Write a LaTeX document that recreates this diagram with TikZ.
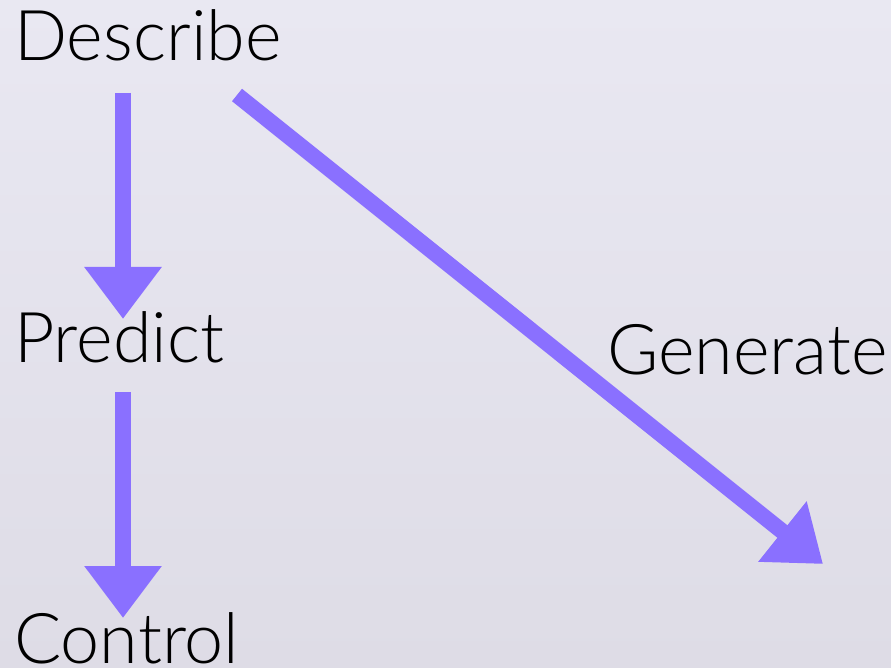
\documentclass[tikz,border=0pt]{standalone}
\usepackage{fontspec}
\setmainfont{Lato}[UprightFont=* Light]
\usetikzlibrary{arrows.meta}
\definecolor{arrowviolet}{RGB}{138,112,255}
\definecolor{bgtop}{RGB}{233,232,242}
\definecolor{bgbottom}{RGB}{222,220,230}
\tikzset{
  word/.style={anchor=base west, inner sep=0pt, font=\fontsize{70}{70}\selectfont, text=black},
  bigarrow/.style={draw=arrowviolet, line width=16pt,
    -{Triangle[length=52pt 0 0, width=74pt 0 0]}}
}
\begin{document}
\begin{tikzpicture}[x=1pt,y=-1pt]
  \shade[top color=bgtop, bottom color=bgbottom] (0,0) rectangle (891,668);
  \useasboundingbox (0,0) rectangle (891,668);
  % labels
  \node[word] (describe) at (14,61) {Describe};
  \node[word] (predict)  at (14,362) {Predict};
  \node[word] (generate) at (607,374) {Generate};
  \node[word] (control)  at (14,663) {Control};
  % arrow end points
  \coordinate (d1) at (123,93);
  \coordinate (p0) at (123,319);
  \coordinate (p1) at (123,392);
  \coordinate (c0) at (123,618);
  \coordinate (d2) at (237,95);
  \coordinate (g0) at (823,564);
  \draw[bigarrow] (d1) -- (p0);
  \draw[bigarrow] (p1) -- (c0);
  \draw[bigarrow] (d2) -- (g0);
\end{tikzpicture}
\end{document}
